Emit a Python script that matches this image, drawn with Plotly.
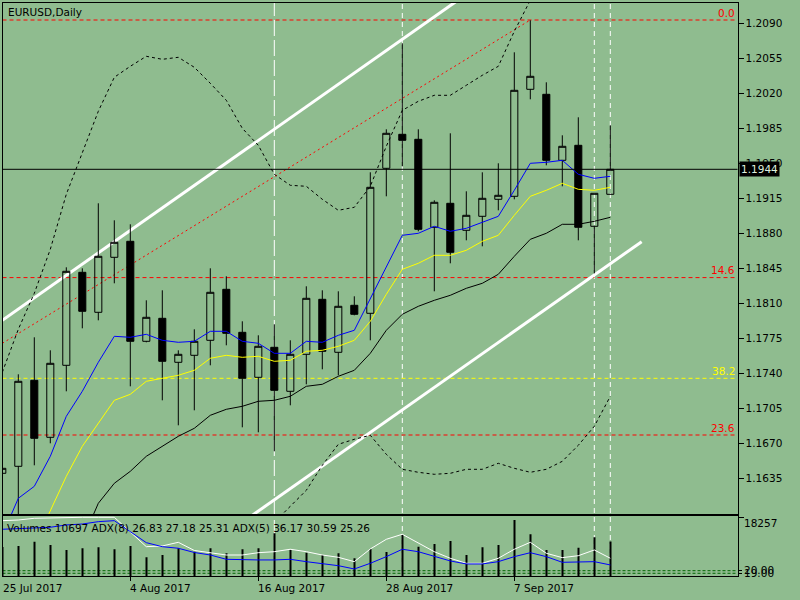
import plotly.graph_objects as go

BG = "#8FBC8F"
FONT = "DejaVu Sans"

# --- EURUSD daily bars, 25 Jul 2017 .. 15 Sep 2017
OPEN = [1.1640, 1.1647, 1.1733, 1.1676, 1.1748, 1.1841, 1.1801, 1.1856, 1.1872, 1.1772,
        1.1795, 1.1751, 1.1758, 1.1773, 1.1824, 1.1781, 1.1736, 1.1766, 1.1722, 1.1759,
        1.1814, 1.1761, 1.1808, 1.1800, 1.1945, 1.1979, 1.1974, 1.1886, 1.1910, 1.1883,
        1.1897, 1.1914, 1.1917, 1.2024, 1.2019, 1.1953, 1.1968, 1.1887, 1.1919]
HIGH = [1.1650, 1.1739, 1.1776, 1.1763, 1.1846, 1.1845, 1.1910, 1.1893, 1.1889, 1.1813,
        1.1823, 1.1763, 1.1784, 1.1845, 1.1837, 1.1792, 1.1778, 1.1789, 1.1773, 1.1827,
        1.1823, 1.1822, 1.1817, 1.1941, 1.1984, 1.2070, 1.1984, 1.1913, 1.1980, 1.1922,
        1.1941, 1.1950, 1.2061, 1.2093, 1.2031, 1.1978, 1.1996, 1.1920, 1.1988]
LOW = [1.1634, 1.1590, 1.1648, 1.1670, 1.1722, 1.1785, 1.1793, 1.1830, 1.1727, 1.1771,
       1.1713, 1.1688, 1.1703, 1.1748, 1.1768, 1.1686, 1.1681, 1.1662, 1.1708, 1.1729,
       1.1744, 1.1738, 1.1798, 1.1773, 1.1917, 1.1947, 1.1882, 1.1822, 1.1850, 1.1873,
       1.1867, 1.1903, 1.1914, 1.2014, 1.1948, 1.1927, 1.1873, 1.1840, 1.1919]
CLOSE = [1.1645, 1.1732, 1.1675, 1.1750, 1.1842, 1.1802, 1.1857, 1.1871, 1.1772, 1.1796,
         1.1752, 1.1759, 1.1772, 1.1821, 1.1780, 1.1735, 1.1767, 1.1723, 1.1759, 1.1815,
         1.1762, 1.1807, 1.1799, 1.1926, 1.1980, 1.1973, 1.1884, 1.1911, 1.1861, 1.1898,
         1.1915, 1.1918, 1.2023, 1.2037, 1.1953, 1.1967, 1.1886, 1.1920, 1.1944]

MA_BLUE = [1.1578, 1.1615, 1.1627, 1.1657, 1.1697, 1.1722, 1.1751, 1.1777, 1.1776, 1.1779,
           1.1773, 1.1771, 1.1772, 1.1782, 1.1782, 1.1772, 1.1770, 1.1760, 1.1760, 1.1772,
           1.1771, 1.1778, 1.1783, 1.1815, 1.1847, 1.1878, 1.1880, 1.1887, 1.1882, 1.1885,
           1.1891, 1.1897, 1.1923, 1.1950, 1.1951, 1.1953, 1.1939, 1.1935, 1.1937]
MA_YELLOW = [None, None, 1.1568, 1.1602, 1.1637, 1.1667, 1.1690, 1.1713, 1.1719, 1.1732,
             1.1735, 1.1738, 1.1743, 1.1755, 1.1758, 1.1756, 1.1757, 1.1752, 1.1753, 1.1762,
             1.1763, 1.1767, 1.1773, 1.1792, 1.1819, 1.1844, 1.1850, 1.1858, 1.1858, 1.1863,
             1.1872, 1.1878, 1.1898, 1.1917, 1.1923, 1.1930, 1.1924, 1.1923, 1.1926]
MA_BLACK = [None, None, None, None, None, 1.1573, 1.1610, 1.1630, 1.1642, 1.1657,
            1.1667, 1.1677, 1.1685, 1.1698, 1.1704, 1.1707, 1.1712, 1.1713, 1.1717, 1.1727,
            1.1729, 1.1737, 1.1743, 1.1760, 1.1783, 1.1799, 1.1807, 1.1813, 1.1818, 1.1825,
            1.1830, 1.1839, 1.1857, 1.1874, 1.1880, 1.1889, 1.1889, 1.1892, 1.1896]
BAND_UP = [1.1741, 1.1784, 1.1820, 1.1864, 1.1919, 1.1961, 1.2002, 1.2036, 1.2047, 1.2057,
           1.2054, 1.2056, 1.2046, 1.2030, 1.2013, 1.1985, 1.1968, 1.1939, 1.1928, 1.1927,
           1.1914, 1.1903, 1.1906, 1.1927, 1.1967, 1.2003, 1.2012, 1.2018, 1.2018, 1.2028,
           1.2038, 1.2047, 1.2082, 1.2113, 1.2128, 1.2135, 1.2137, 1.2133, 1.2125]
BAND_LOW = [None] * 16 + [
    1.1568, 1.1591, 1.1607, 1.1623, 1.1648, 1.1669, 1.1674, 1.1678, 1.1659, 1.1644,
    1.1641, 1.1639, 1.1640, 1.1644, 1.1644, 1.1650, 1.1645, 1.1641, 1.1644, 1.1652,
    1.1668, 1.1687, 1.1717]

VOLUME = [9000, 9330, 10670, 9640, 8090, 8615, 8925, 8300, 9330, 5815,
          6530, 8615, 7560, 8615, 7060, 8300, 8615, 13280, 8090, 7245,
          6530, 7060, 5505, 8400, 7465, 12750, 9110, 9950, 10885, 6530,
          8925, 9640, 17415, 12970, 8090, 8090, 8800, 12035, 10697]
ADX_WHITE = [88.6, 89.5, 91.9, 92.6, 93.3, 93.3, 93.3, 93.3, 72.8, 52.3,
             53.3, 58.4, 47.0, 43.5, 40.7, 40.7, 43.9, 45.3, 48.7, 45.3,
             40.7, 37.5, 31.4, 49.1, 62.6, 69.6, 57.0, 45.3, 36.1, 29.1,
             29.1, 36.1, 48.7, 58.4, 43.1, 37.0, 39.7, 47.7, 36.17]
ADX_BLUE = [76.6, 78.0, 78.4, 79.4, 82.6, 83.9, 87.2, 88.6, 73.2, 57.9,
            52.3, 50.1, 44.2, 40.7, 34.7, 33.8, 33.8, 33.8, 34.7, 31.4,
            29.1, 25.8, 21.2, 29.1, 38.4, 48.7, 45.3, 38.4, 32.4, 28.2,
            28.2, 31.4, 38.4, 43.9, 38.4, 30.5, 30.5, 31.4, 26.83]
ADX_LEVELS = [18.8, 15.2]

DATE_TICKS = [0, 8, 16, 24, 32]
DATE_LABELS = ["25 Jul 2017", "4 Aug 2017", "16 Aug 2017", "28 Aug 2017", "7 Sep 2017"]
PRICE_TICKS = [1.2090, 1.2055, 1.2020, 1.1985, 1.1950, 1.1915, 1.1880, 1.1845,
               1.1810, 1.1775, 1.1740, 1.1705, 1.1670, 1.1635]
VOL_TOP = 18257
LAST_PRICE = 1.1944

# chart objects drawn on the chart (bar index, price)
FIB_LEVELS = [("0.0", 1.20933, "red"), ("14.6", 1.18357, "red"),
              ("38.2", 1.17350, "yellow"), ("23.6", 1.16783, "red")]
FIB_DIAGONAL = [(0, 1.1770), (33, 1.20933)]
CHANNEL_UP = [(0, 1.1793), (30, 1.21302)]
CHANNEL_LOW = [(15.5, 1.15966), (39.96, 1.18716)]
VLINES = [(17, "16px,4px"), (25, "5px,4px"), (37, "5px,4px"), (38, "5px,4px")]

idx = list(range(len(OPEN)))
X_RANGE = [0.0125, 45.95]
X0, X1 = 2.5 / 800, 737.5 / 800
py = lambda px: 1 - px / 600   # pixel row -> paper y

fig = go.Figure()
fig.add_trace(go.Candlestick(
    x=idx, open=OPEN, high=HIGH, low=LOW, close=CLOSE, whiskerwidth=0,
    increasing=dict(line=dict(color="black", width=1), fillcolor="rgba(0,0,0,0)"),
    decreasing=dict(line=dict(color="black", width=1), fillcolor="black"),
))
for ys in (BAND_UP, BAND_LOW):
    fig.add_trace(go.Scatter(x=idx, y=ys, mode="lines",
                             line=dict(color="black", width=1, dash="3px,3px")))
for ys, color in [(MA_BLACK, "black"), (MA_YELLOW, "#ffff00"), (MA_BLUE, "#0000ff")]:
    fig.add_trace(go.Scatter(x=idx, y=ys, mode="lines", line=dict(color=color, width=1)))

fig.add_trace(go.Bar(x=idx, y=VOLUME, xaxis="x2", yaxis="y2", width=0.07,
                     marker=dict(color="black", line=dict(width=0))))
fig.add_trace(go.Scatter(x=idx, y=ADX_WHITE, xaxis="x2", yaxis="y3", mode="lines",
                         line=dict(color="white", width=1)))
fig.add_trace(go.Scatter(x=idx, y=ADX_BLUE, xaxis="x2", yaxis="y3", mode="lines",
                         line=dict(color="#0000ff", width=1)))

shapes = []
for x, dash in VLINES:
    shapes.append(dict(type="line", xref="x", yref="paper", x0=x, x1=x, y0=py(576), y1=py(3),
                       line=dict(color="white", width=1, dash=dash), layer="below"))
for label, price, color in FIB_LEVELS:
    shapes.append(dict(type="line", xref="x domain", yref="y", x0=0, x1=1, y0=price, y1=price,
                       line=dict(color=color, width=1, dash="4px,3px"), layer="below"))
shapes.append(dict(type="line", xref="x", yref="y",
                   x0=FIB_DIAGONAL[0][0], y0=FIB_DIAGONAL[0][1],
                   x1=FIB_DIAGONAL[1][0], y1=FIB_DIAGONAL[1][1],
                   line=dict(color="red", width=1, dash="2px,3px"), layer="below"))
for (xa, ya), (xb, yb) in [CHANNEL_UP, CHANNEL_LOW]:
    shapes.append(dict(type="line", xref="x", yref="y", x0=xa, y0=ya, x1=xb, y1=yb,
                       line=dict(color="white", width=3), layer="below"))
shapes.append(dict(type="line", xref="x domain", yref="y", x0=0, x1=1,
                   y0=LAST_PRICE, y1=LAST_PRICE, line=dict(color="black", width=1)))
for lvl in ADX_LEVELS:
    shapes.append(dict(type="line", xref="x2 domain", yref="y3", x0=0, x1=1, y0=lvl, y1=lvl,
                       line=dict(color="#006400", width=1, dash="3px,2px"), layer="below"))

txt = lambda s, x, y, color="black", xanchor="left", **kw: dict(
    text=s, x=x, y=y, xref="paper", yref="paper", xanchor=xanchor, yanchor="middle",
    showarrow=False, font=dict(family=FONT, size=10.5, color=color), **kw)

annotations = [
    txt("EURUSD,Daily", 6 / 800, py(12)),
    txt("Volumes 10697 ADX(8) 26.83 27.18 25.31 ADX(5) 36.17 30.59 25.26", 5 / 800, py(527.5)),
    txt(f"{LAST_PRICE:.4f}", 739 / 800, py(169.3), color="#dfefdf", bgcolor="black"),
    txt(f"{VOL_TOP}", 742 / 800, py(523)),
    txt("20.00", 742 / 800, py(569.5)),
    txt("19.00", 742 / 800, py(572.5)),
]
fib_rows = {"0.0": 12.5, "14.6": 269.5, "38.2": 370.5, "23.6": 427.5}
for label, price, color in FIB_LEVELS:
    annotations.append(txt(label, 737 / 800, py(fib_rows[label]), color=color, xanchor="right"))
for x, label in zip(DATE_TICKS, DATE_LABELS):
    annotations.append(dict(text=label, x=max(x, X_RANGE[0] + 0.01), y=py(587.5), xref="x2",
                            yref="paper", xanchor="left", yanchor="middle", xshift=-2,
                            showarrow=False, font=dict(family=FONT, size=10.5, color="black")))

axis_common = dict(showline=True, mirror=True, linecolor="black", linewidth=1,
                   showgrid=False, zeroline=False)
fig.update_layout(
    width=800, height=600, margin=dict(l=0, r=0, t=0, b=0),
    paper_bgcolor=BG, plot_bgcolor=BG, showlegend=False, boxgap=0.37,
    font=dict(family=FONT, size=10.5, color="black"),
    xaxis=dict(domain=[X0, X1], range=X_RANGE, anchor="y", showticklabels=False,
               rangeslider=dict(visible=False), **axis_common),
    yaxis=dict(domain=[py(514), py(3)], range=[1.15993, 1.21103], side="right", anchor="x",
               tickvals=PRICE_TICKS, tickformat=".4f", ticks="outside", ticklen=5,
               tickcolor="black", **axis_common),
    xaxis2=dict(domain=[X0, X1], range=X_RANGE, anchor="y2", showticklabels=False,
                tickvals=DATE_TICKS, ticks="outside", ticklen=4, tickcolor="black", **axis_common),
    yaxis2=dict(domain=[py(576), py(516)], range=[0, 18661], side="right", anchor="x2",
                tickvals=[VOL_TOP], ticks="outside", ticklen=5, tickcolor="black",
                showticklabels=False, **axis_common),
    yaxis3=dict(overlaying="y2", range=[11.4, 95.1], side="right", anchor="x2",
                tickvals=ADX_LEVELS, ticks="outside", ticklen=3, tickcolor="black",
                showticklabels=False, showgrid=False, zeroline=False),
    shapes=shapes, annotations=annotations,
)

# the page's default body margin would push the 800x600 figure off the window
fig.write_html("out.html", config={"displayModeBar": False},
               post_script="document.body.style.margin='0px';")
